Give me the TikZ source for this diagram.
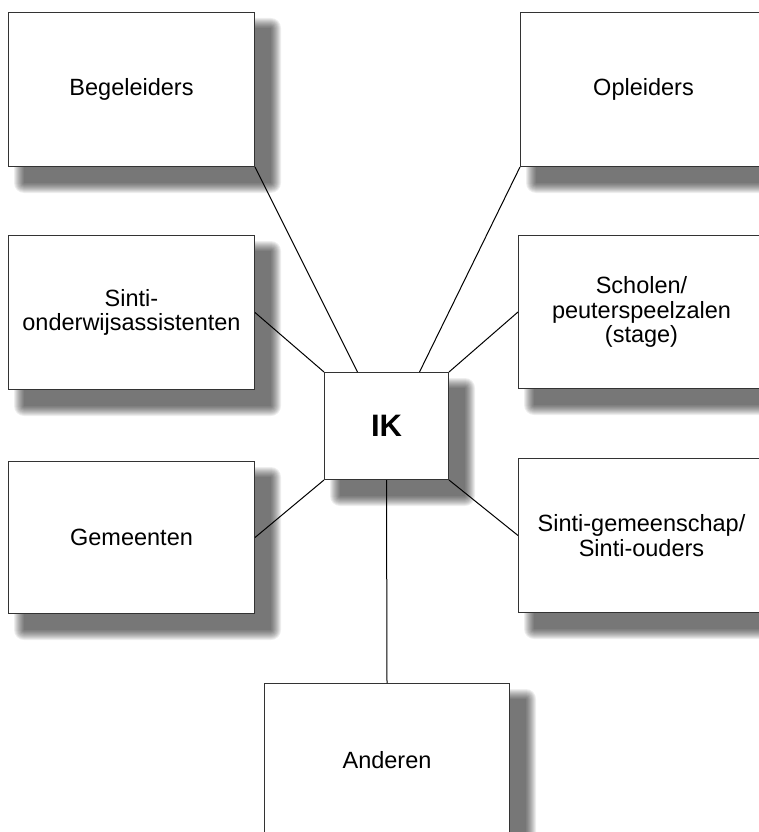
\documentclass[tikz,border=0pt]{standalone}
\usepackage{fontspec}
\setmainfont{Liberation Sans}
\usetikzlibrary{backgrounds}

\tikzset{
    party/.style={draw=black!80, fill=white, line width=1pt, anchor=north west,
        minimum width=246pt, minimum height=154pt, inner sep=0pt, align=center,
        font=\fontsize{23.5}{24.5}\selectfont},
    link/.style={line width=1pt},
    haze/.style={fill=black, opacity=0.065}
}

\begin{document}
\begin{tikzpicture}[x=1pt,y=-1pt]

    \useasboundingbox (0,0) rectangle (758,832);

    % left column
    \node[party] (beg) at (8,12) {Begeleiders};
    \node[party] (sow) at (8,235) {Sinti-\\onderwijsassistenten};
    \node[party, minimum height=152pt] (gem) at (8,461) {Gemeenten};

    % right column
    \node[party] (opl) at (520,12) {Opleiders};
    \node[party, minimum height=153pt] (sch) at (518,235) {Scholen/\\peuterspeelzalen\\(stage)};
    \node[party] (sgm) at (518,458) {Sinti-gemeenschap/\\Sinti-ouders};

    % bottom
    \node[party, minimum width=245pt] (and) at (264,683) {Anderen};

    % centre
    \node[party, minimum width=124pt, minimum height=107pt,
        font=\fontsize{31}{36}\selectfont\bfseries] (ik) at (324,372) {IK};

    % soft shadows
    \begin{scope}[on background layer]
        \foreach \n in {beg,sow,gem,opl,sch,sgm,and,ik}
            \foreach \r in {0,...,10}
                \fill[haze, rounded corners=\r pt]
                    ([shift={(16-\r,16-\r)}]\n.north west) rectangle
                    ([shift={(16+\r,16+\r)}]\n.south east);
    \end{scope}

    % links to IK
    \draw[link] (beg.south east) -- ([xshift=-29pt]ik.north);
    \draw[link] (opl.south west) -- ([xshift=33pt]ik.north);
    \draw[link] (sow.east) -- (ik.north west);
    \draw[link] (sch.west) -- (ik.north east);
    \draw[link] (gem.east) -- (ik.south west);
    \draw[link] (sgm.west) -- (ik.south east);
    \draw[link] (ik.south) -- (and.north);

\end{tikzpicture}
\end{document}
